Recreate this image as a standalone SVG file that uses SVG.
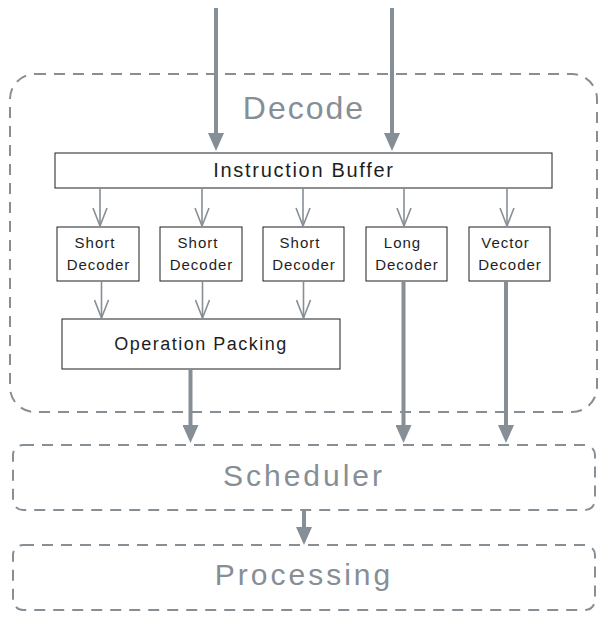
<svg xmlns="http://www.w3.org/2000/svg" width="608" height="619" viewBox="0 0 608 619">
<defs>
<style>
.cont{fill:none;stroke:#868e96;stroke-width:2;stroke-dasharray:11 8}
.box{fill:#ffffff;stroke:#1e1e1e;stroke-width:1}
.big{font-family:"Liberation Sans",Arial,sans-serif;fill:#868e96;text-anchor:middle}
.lbl{font-family:"Liberation Sans",Arial,sans-serif;fill:#1e1e1e;text-anchor:middle}
.thick{stroke:#868e96;stroke-width:4;fill:none}
.thin{stroke:#868e96;stroke-width:1.6;fill:none}
</style>
<marker id="head" markerUnits="userSpaceOnUse" viewBox="0 0 18 16" markerWidth="18" markerHeight="16" refX="1" refY="8" orient="auto">
<path d="M0,0 L18,8 L0,16 Z" fill="#868e96"/>
</marker>
<marker id="vee" markerUnits="userSpaceOnUse" viewBox="-1 -1 20 16" markerWidth="20" markerHeight="16" refX="18" refY="7" orient="auto">
<path d="M0,0 L18,7 L0,14" fill="none" stroke="#868e96" stroke-width="1.6" stroke-linejoin="round"/>
</marker>
</defs>
<rect width="608" height="619" fill="#ffffff"/>

<g id="decode">
<rect class="cont" x="10" y="74" width="587" height="338" rx="25" ry="25"/>
<text class="big" x="304" y="119" font-size="32" letter-spacing="2">Decode</text>
</g>

<g id="scheduler">
<rect class="cont" x="13" y="445" width="582" height="65" rx="10" ry="10"/>
<text class="big" x="304" y="486" font-size="30" letter-spacing="3">Scheduler</text>
</g>

<g id="processing">
<rect class="cont" x="13" y="545" width="582" height="65" rx="10" ry="10"/>
<text class="big" x="304" y="585" font-size="30" letter-spacing="3">Processing</text>
</g>

<g id="instruction-buffer">
<rect class="box" x="55" y="153" width="497" height="35"/>
<text class="lbl" x="304" y="177" font-size="20" letter-spacing="1.7">Instruction Buffer</text>
</g>

<g id="short-decoder-1">
<rect class="box" x="57" y="227" width="82" height="54"/>
<text class="lbl" x="95" y="248" font-size="15" letter-spacing="1">Short</text>
<text class="lbl" x="98.5" y="270" font-size="15" letter-spacing="1">Decoder</text>
</g>

<g id="short-decoder-2">
<rect class="box" x="160" y="227" width="82" height="54"/>
<text class="lbl" x="198" y="248" font-size="15" letter-spacing="1">Short</text>
<text class="lbl" x="201.5" y="270" font-size="15" letter-spacing="1">Decoder</text>
</g>

<g id="short-decoder-3">
<rect class="box" x="263" y="227" width="81" height="54"/>
<text class="lbl" x="300" y="248" font-size="15" letter-spacing="1">Short</text>
<text class="lbl" x="304" y="270" font-size="15" letter-spacing="1">Decoder</text>
</g>

<g id="long-decoder">
<rect class="box" x="366" y="227" width="81" height="54"/>
<text class="lbl" x="402.5" y="248" font-size="15" letter-spacing="1">Long</text>
<text class="lbl" x="407" y="270" font-size="15" letter-spacing="1">Decoder</text>
</g>

<g id="vector-decoder">
<rect class="box" x="469" y="227" width="81" height="54"/>
<text class="lbl" x="505.5" y="248" font-size="15" letter-spacing="1">Vector</text>
<text class="lbl" x="510" y="270" font-size="15" letter-spacing="1">Decoder</text>
</g>

<g id="operation-packing">
<rect class="box" x="62" y="319" width="278" height="50"/>
<text class="lbl" x="201" y="350" font-size="18" letter-spacing="1.5">Operation Packing</text>
</g>

<g id="connectors">
<line class="thick" x1="216" y1="8" x2="216" y2="134" marker-end="url(#head)"/>
<line class="thick" x1="392" y1="8" x2="392" y2="134" marker-end="url(#head)"/>

<line class="thin" x1="100" y1="188" x2="100" y2="226" marker-end="url(#vee)"/>
<line class="thin" x1="202" y1="188" x2="202" y2="226" marker-end="url(#vee)"/>
<line class="thin" x1="303" y1="188" x2="303" y2="226" marker-end="url(#vee)"/>
<line class="thin" x1="404" y1="188" x2="404" y2="226" marker-end="url(#vee)"/>
<line class="thin" x1="507" y1="188" x2="507" y2="226" marker-end="url(#vee)"/>

<line class="thin" x1="101.5" y1="281" x2="101.5" y2="318" marker-end="url(#vee)"/>
<line class="thin" x1="202.5" y1="281" x2="202.5" y2="318" marker-end="url(#vee)"/>
<line class="thin" x1="303.5" y1="281" x2="303.5" y2="318" marker-end="url(#vee)"/>

<line class="thick" x1="190.5" y1="369" x2="190.5" y2="426" marker-end="url(#head)"/>
<line class="thick" x1="403.5" y1="281" x2="403.5" y2="426" marker-end="url(#head)"/>
<line class="thick" x1="506" y1="281" x2="506" y2="426" marker-end="url(#head)"/>

<line class="thick" x1="304" y1="510" x2="304" y2="528" marker-end="url(#head)"/>
</g>
</svg>
